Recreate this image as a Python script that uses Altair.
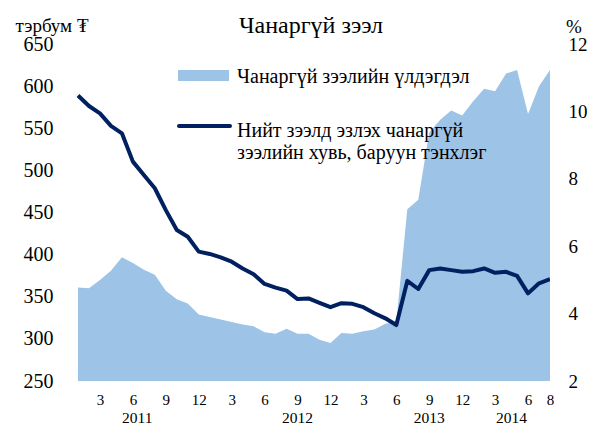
import altair as alt
import pandas as pd

FONT = "Times New Roman"

# Jan 2011 .. Aug 2014 (month index 0..43)
months = list(range(44))
loans = [361, 360, 370, 381, 397, 390, 382, 376, 357, 347, 342, 329,
         326, 323, 320, 317, 315, 308, 306, 312, 306, 306, 299, 295,
         307, 306, 309, 311, 318, 320, 454, 465, 545, 560, 571, 565,
         582, 597, 594, 615, 619, 567, 600, 619]
share = [10.47, 10.16, 9.94, 9.57, 9.35, 8.51, 8.11, 7.72, 7.07, 6.48, 6.28, 5.84,
         5.77, 5.67, 5.54, 5.34, 5.17, 4.88, 4.77, 4.68, 4.43, 4.45, 4.32, 4.19,
         4.31, 4.29, 4.19, 4.01, 3.86, 3.66, 4.97, 4.73, 5.29, 5.34, 5.29, 5.24,
         5.26, 5.34, 5.21, 5.24, 5.12, 4.60, 4.90, 5.02]
tick_idx = [2, 5, 8, 11, 14, 17, 20, 23, 26, 29, 32, 35, 38, 41, 43]
years = ["2011", "2012", "2013", "2014"]
year_pos = [5.4, 20.0, 32.0, 39.5]

title_text = "Чанаргүй зээл"
left_unit = "тэрбум ₮"
right_unit = "%"
legend_area = "Чанаргүй  зээлийн үлдэгдэл"
legend_line = ["Нийт зээлд эзлэх чанаргүй", "зээлийн хувь, баруун тэнхлэг"]

AREA_COLOR = "#9DC3E6"
LINE_COLOR = "#002060"

df = pd.DataFrame({"m": months, "loans": loans, "share": share})
ydf = pd.DataFrame({"pos": year_pos, "year": years})

W, H = 490, 337
xscale = alt.Scale(domain=[-1.64, 43.0], nice=False, zero=False)
x_axis = alt.Axis(values=tick_idx, labelExpr="(datum.value % 12) + 1",
                  title=None, grid=False, domain=False, ticks=False,
                  labelFont=FONT, labelFontSize=15, labelColor="#000",
                  labelPadding=11, labelFlush=False, labelOverlap=False)

base = alt.Chart(df)

area = base.mark_area(color=AREA_COLOR, clip=True).encode(
    x=alt.X("m:Q", scale=xscale, axis=x_axis),
    y=alt.Y("loans:Q", scale=alt.Scale(domain=[250, 650], nice=False, zero=False),
            axis=alt.Axis(values=[250, 300, 350, 400, 450, 500, 550, 600, 650],
                          title=None, grid=False, domain=False, ticks=False,
                          labelFont=FONT, labelFontSize=20, labelColor="#000",
                          labelPadding=7, labelFlush=False, labelOverlap=False)),
)

line = base.mark_line(color=LINE_COLOR, strokeWidth=4, strokeJoin="round", clip=True).encode(
    x=alt.X("m:Q", scale=xscale, axis=x_axis),
    y=alt.Y("share:Q", scale=alt.Scale(domain=[2, 12], nice=False, zero=False),
            axis=alt.Axis(orient="right", values=[2, 4, 6, 8, 10, 12],
                          title=None, grid=False, domain=False, ticks=False,
                          labelFont=FONT, labelFontSize=19, labelColor="#000",
                          labelPadding=18, labelFlush=False, labelOverlap=False)),
)

year_text = alt.Chart(ydf).mark_text(font=FONT, fontSize=15.5, color="#000",
                                     baseline="middle", align="center").encode(
    x=alt.X("pos:Q", scale=xscale, axis=x_axis),
    y=alt.value(H + 37),
    text="year:N",
)


def label(txt, x, y, size, align="left"):
    return alt.Chart(pd.DataFrame({"t": [txt]})).mark_text(
        font=FONT, fontSize=size, color="#000", align=align, baseline="alphabetic"
    ).encode(x=alt.value(x), y=alt.value(y), text="t:N")


title = label(title_text, 251, -11, 24, "center")
lunit = label(left_unit, -8, -12, 19, "center")
runit = label(right_unit, 514, -11, 19, "center")

swatch = alt.Chart(pd.DataFrame({"a": [0]})).mark_rect(color=AREA_COLOR).encode(
    x=alt.value(118), x2=alt.value(169), y=alt.value(26), y2=alt.value(37))
legline = alt.Chart(pd.DataFrame({"a": [0]})).mark_rule(
    color=LINE_COLOR, strokeWidth=4, strokeCap="round").encode(
    x=alt.value(119), x2=alt.value(170), y=alt.value(82))
l1 = label(legend_area, 177, 39, 20)
l2 = label(legend_line[0], 177, 92.5, 20)
l3 = label(legend_line[1], 177, 114.5, 20)

chart = alt.layer(area, line, year_text, title, lunit, runit, swatch, legline, l1, l2, l3).resolve_scale(
    y="independent"
).properties(
    width=W, height=H,
    autosize=alt.AutoSizeParams(type="none"),
    padding={"left": 52, "top": 36, "right": 37, "bottom": 45},
    background="white",
).configure(font=FONT).configure_axis(labelFont=FONT).configure_view(stroke=None)

chart.save("out.html", embed_options={"renderer": "svg", "actions": False})
